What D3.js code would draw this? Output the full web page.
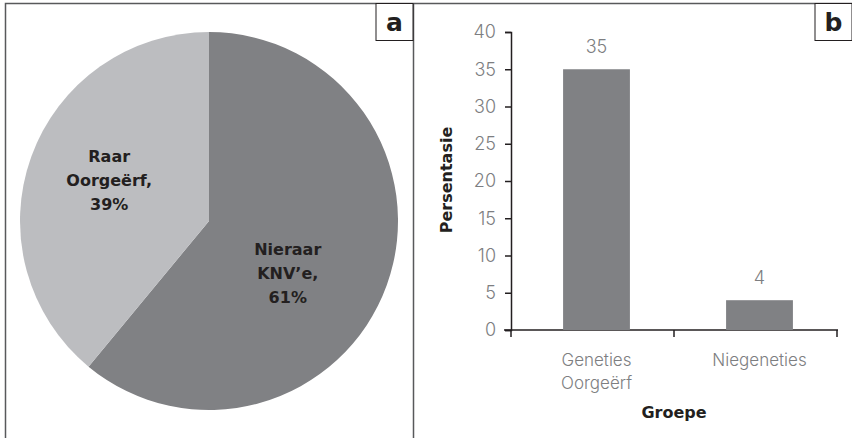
<!DOCTYPE html>
<html>
<head>
<meta charset="utf-8">
<script src="https://cdn.jsdelivr.net/npm/d3@7"></script>
<style>
  body { margin: 0; background: #fff; }
</style>
</head>
<body>
<div id="vis"></div>
<script>
// pie data (panel a)
const pieLabels = [["Nieraar", "KNV\u2019e,", "61%"], ["Raar", "Oorge\u00ebrf,", "39%"]];
const pieValues = [61, 39];
const pieColors = ["#808184", "#bcbdc0"];

// bar data (panel b)
const barCats = [["Geneties", "Oorge\u00ebrf"], ["Niegeneties"]];
const barValues = [35, 4];
const yTicks = [0, 5, 10, 15, 20, 25, 30, 35, 40];

const svg = d3.select("#vis").append("svg")
  .attr("width", 852)
  .attr("height", 438);

const frame = "#58595b";
const boldFont = "DejaVu Sans, sans-serif";
const lightFont = "Inter, Open Sans, sans-serif";
const ink = "#231f20";
const tickColor = "#7d7e81";

// panel frames
svg.append("path")
  .attr("d", "M5.5,438 V3.5 H852")
  .attr("fill", "none").attr("stroke", frame).attr("stroke-width", 1.5);
svg.append("line")
  .attr("x1", 413.5).attr("x2", 413.5).attr("y1", 3).attr("y2", 438)
  .attr("stroke", frame).attr("stroke-width", 1.5);

// panel letters
function letterBox(x, letter) {
  svg.append("rect")
    .attr("x", x).attr("y", 3.5).attr("width", 37).attr("height", 37)
    .attr("fill", "#fff").attr("stroke", ink).attr("stroke-width", 1);
  svg.append("text")
    .attr("x", x + 18.5).attr("y", 31)
    .attr("text-anchor", "middle")
    .attr("font-family", boldFont)
    .attr("font-size", 25).attr("font-weight", 700)
    .attr("fill", ink)
    .text(letter);
}
letterBox(376, "a");
letterBox(815, "b");

// ---- panel a: pie ----
const cx = 209, cy = 221, r = 189;
const pie = d3.pie().sort(null).value(d => d);
const arc = d3.arc().innerRadius(0).outerRadius(r);
const g = svg.append("g").attr("transform", `translate(${cx},${cy})`);
const arcs = pie(pieValues);

g.selectAll("path").data(arcs).enter().append("path")
  .attr("d", arc)
  .attr("fill", (d, i) => pieColors[i]);

// label placement: radius and small angle shift per slice
const labelRadius = [0.5 * r, 0.57 * r];
const labelShift = [0.24, 0.04];
const pieText = g.selectAll("text.lbl").data(arcs).enter().append("text")
  .attr("class", "lbl")
  .attr("text-anchor", "middle")
  .attr("font-family", boldFont)
  .attr("font-size", 16).attr("font-weight", 700)
  .attr("fill", ink)
  .attr("transform", (d, i) => {
    const a = (d.startAngle + d.endAngle) / 2 + labelShift[i];
    const px = Math.sin(a) * labelRadius[i];
    const py = -Math.cos(a) * labelRadius[i];
    return `translate(${px},${py})`;
  });
pieText.each(function(d, i) {
  const t = d3.select(this);
  pieLabels[i].forEach((line, k) => {
    t.append("tspan")
      .attr("x", 0)
      .attr("y", (k - 1) * 24 + 6)
      .text(line);
  });
});

// ---- panel b: bars ----
const x = d3.scaleBand().domain(barValues.map((d, i) => i))
  .range([515, 841]).paddingInner(0.59).paddingOuter(0.295);
const y = d3.scaleLinear().domain([0, 40]).range([330, 32]);

const yAxis = svg.append("g")
  .attr("transform", "translate(511,0)")
  .call(d3.axisLeft(y).tickValues(yTicks).tickSize(6).tickPadding(9));
yAxis.attr("font-family", lightFont).attr("font-size", 18);
yAxis.select(".domain").attr("stroke", ink).attr("stroke-width", 1.5);
yAxis.selectAll(".tick line").attr("stroke", ink).attr("stroke-width", 1.5);
yAxis.selectAll(".tick text")
  .attr("font-weight", 300)
  .attr("fill", tickColor);

// x axis with ticks between categories
svg.append("line")
  .attr("x1", 504).attr("x2", 838).attr("y1", 330).attr("y2", 330)
  .attr("stroke", ink).attr("stroke-width", 1.5);
const xBounds = d3.scaleLinear().domain([0, barValues.length]).range([511, 837]);
svg.selectAll("line.xt").data(d3.range(barValues.length + 1)).enter().append("line")
  .attr("class", "xt")
  .attr("x1", d => xBounds(d)).attr("x2", d => xBounds(d))
  .attr("y1", 330).attr("y2", 337)
  .attr("stroke", ink).attr("stroke-width", 1.5);

svg.selectAll("rect.bar").data(barValues).enter().append("rect")
  .attr("class", "bar")
  .attr("x", (d, i) => x(i))
  .attr("width", x.bandwidth())
  .attr("y", d => y(d))
  .attr("height", d => y(0) - y(d))
  .attr("fill", "#808184");

svg.selectAll("text.val").data(barValues).enter().append("text")
  .attr("class", "val")
  .attr("x", (d, i) => x(i) + x.bandwidth() / 2)
  .attr("y", d => y(d) - 16)
  .attr("text-anchor", "middle")
  .attr("font-family", lightFont)
  .attr("font-size", 18).attr("font-weight", 300)
  .attr("fill", tickColor)
  .text(d => d);

const catText = svg.selectAll("text.cat").data(barCats).enter().append("text")
  .attr("class", "cat")
  .attr("text-anchor", "middle")
  .attr("font-family", lightFont)
  .attr("font-size", 17).attr("font-weight", 300)
  .attr("fill", tickColor);
catText.each(function(lines, i) {
  const t = d3.select(this);
  lines.forEach((line, k) => {
    t.append("tspan")
      .attr("x", x(i) + x.bandwidth() / 2)
      .attr("y", 366 + k * 23)
      .text(line);
  });
});

svg.append("text")
  .attr("x", 674).attr("y", 418)
  .attr("text-anchor", "middle")
  .attr("font-family", boldFont)
  .attr("font-size", 16).attr("font-weight", 700)
  .attr("fill", ink)
  .text("Groepe");

svg.append("text")
  .attr("transform", "translate(452,180) rotate(-90)")
  .attr("text-anchor", "middle")
  .attr("font-family", boldFont)
  .attr("font-size", 16).attr("font-weight", 700)
  .attr("fill", ink)
  .text("Persentasie");
</script>
</body>
</html>
